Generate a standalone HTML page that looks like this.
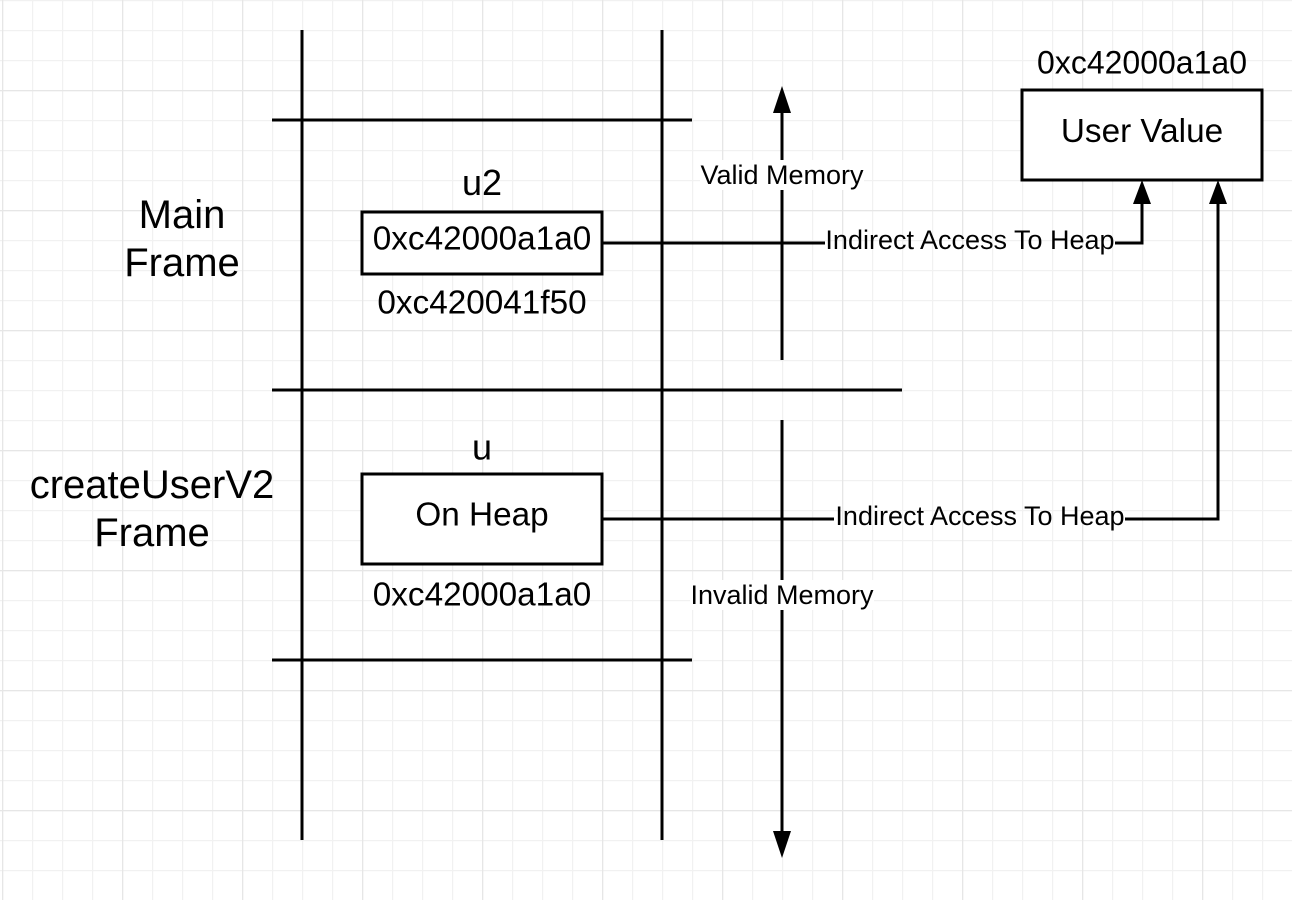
<!DOCTYPE html>
<html>
<head>
<meta charset="utf-8">
<style>
html,body{margin:0;padding:0;background:#fff;width:1292px;height:900px;overflow:hidden}
svg{display:block}
text{font-family:"Liberation Sans",sans-serif;fill:#000;text-anchor:middle}
</style>
</head>
<body>
<svg width="1292" height="900" viewBox="0 0 1292 900" xmlns="http://www.w3.org/2000/svg">
<defs>
<pattern id="minor" width="30" height="30" patternUnits="userSpaceOnUse" x="2" y="0">
<path d="M0.5 0V30M0 0.5H30" stroke="#f1f1f1" stroke-width="1.5" fill="none"/>
</pattern>
<pattern id="major" width="120" height="120" patternUnits="userSpaceOnUse" x="2" y="90">
<path d="M0.5 0V120M0 0.5H120" stroke="#e6e6e6" stroke-width="1.5" fill="none"/>
</pattern>
</defs>
<rect width="1292" height="900" fill="#fff"/>
<rect width="1292" height="900" fill="url(#minor)"/>
<rect width="1292" height="900" fill="url(#major)"/>

<g stroke="#000" stroke-width="3" fill="none">
<path d="M302 30V840M662 30V840"/>
<path d="M272 120H692M272 390H902M272 660H692"/>
<path d="M782 110V360M782 420V835"/>
<rect x="362" y="212" width="240" height="62" fill="#fff"/>
<rect x="362" y="474" width="240" height="90" fill="#fff"/>
<rect x="1022" y="90" width="240" height="90" fill="#fff"/>
<path d="M602 243H825M1115 243H1142V200"/>
<path d="M602 519H834M1125 519H1218V200"/>
</g>
<g fill="#000">
<path d="M782 86L791 113H773Z"/>
<path d="M782 858L773 831H791Z"/>
<path d="M1142 180L1151 204H1133Z"/>
<path d="M1218 180L1227 204H1209Z"/>
</g>
<rect x="700" y="160" width="164" height="30" fill="#fff"/>
<rect x="690" y="580" width="184" height="30" fill="#fff"/>

<text x="182" y="228" font-size="40">Main</text>
<text x="182" y="276" font-size="40">Frame</text>
<text x="152" y="498" font-size="40">createUserV2</text>
<text x="152" y="546" font-size="40">Frame</text>

<text x="482" y="195" font-size="36">u2</text>
<text x="482" y="249.5" font-size="33.3">0xc42000a1a0</text>
<text x="482" y="313.5" font-size="33.3">0xc420041f50</text>
<text x="482" y="459.5" font-size="36">u</text>
<text x="482" y="525.5" font-size="33.3">On Heap</text>
<text x="482" y="605.5" font-size="33.3">0xc42000a1a0</text>
<text x="1142" y="73.5" font-size="32">0xc42000a1a0</text>
<text x="1142" y="142" font-size="33.3">User Value</text>

<text x="782" y="184" font-size="27">Valid Memory</text>
<text x="782" y="604" font-size="27">Invalid Memory</text>
<text x="970" y="249" font-size="27">Indirect Access To Heap</text>
<text x="980" y="525" font-size="27">Indirect Access To Heap</text>
</svg>
</body>
</html>
